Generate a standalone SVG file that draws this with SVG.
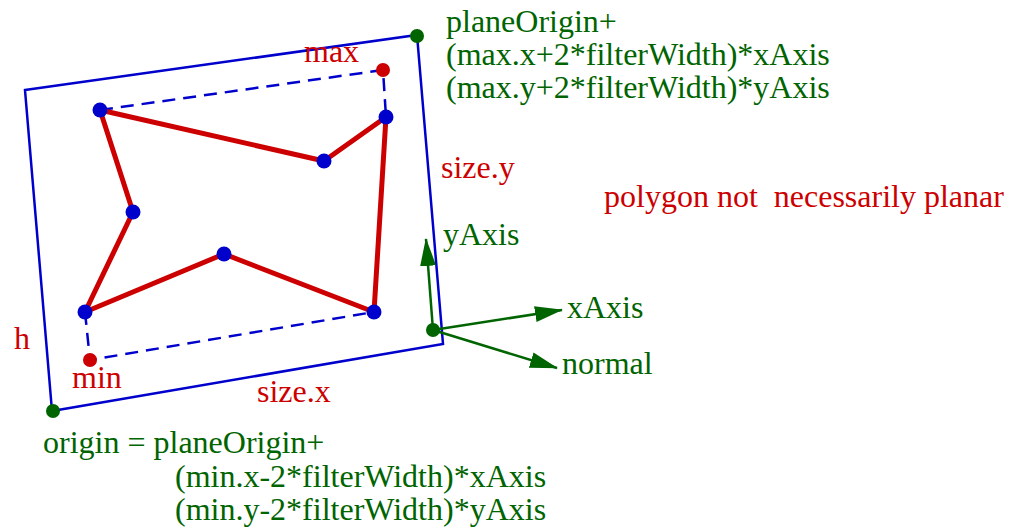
<svg xmlns="http://www.w3.org/2000/svg" width="1014" height="529" viewBox="0 0 1014 529">
<style>
text{font-family:"Liberation Serif","Times New Roman",serif;font-size:32px}
.g{fill:#006400}
.r{fill:#cc0000}
.quad{fill:none;stroke:#0000cc;stroke-width:2.5}
.dash{fill:none;stroke:#0000cc;stroke-width:2.5;stroke-dasharray:13 8}
.poly{fill:none;stroke:#cc0000;stroke-width:5;stroke-linejoin:round}
.ax{stroke:#006400;stroke-width:2.5;fill:none}
.bd{fill:#0000cc}
.gd{fill:#006400}
.rd{fill:#cc0000}
</style>
<defs>
<marker id="ah" markerUnits="userSpaceOnUse" markerWidth="30" markerHeight="18" refX="27" refY="8" orient="auto">
<path d="M0,0 L28,8 L0,16 Z" fill="#006400"/>
</marker>
</defs>
<rect width="1014" height="529" fill="#ffffff"/>
<g id="connectors">
<polygon class="quad" points="25,90 417,35 443,344 52,411"/>
<polyline class="dash" points="100,110 383,70 386,117"/>
<polyline class="dash" points="85,312 90,360 374,312"/>
<polygon class="poly" points="100,110 324,161 386,117 374,312 224,254 85,312 133,212"/>
<line class="ax" x1="433" y1="330" x2="426" y2="239" marker-end="url(#ah)"/>
<line class="ax" x1="433" y1="330" x2="562" y2="310" marker-end="url(#ah)"/>
<line class="ax" x1="433" y1="330" x2="557" y2="368" marker-end="url(#ah)"/>
</g>
<g id="vertices">
<circle class="bd" cx="100" cy="110" r="7.5"/>
<circle class="bd" cx="324" cy="161" r="7.5"/>
<circle class="bd" cx="386" cy="117" r="7.5"/>
<circle class="bd" cx="374" cy="312" r="7.5"/>
<circle class="bd" cx="224" cy="254" r="7.5"/>
<circle class="bd" cx="85" cy="312" r="7.5"/>
<circle class="bd" cx="133" cy="212" r="7.5"/>
</g>
<g id="max">
<circle class="rd" cx="383" cy="70" r="7"/>
<text class="r" x="304" y="62">max</text>
</g>
<g id="min">
<circle class="rd" cx="90" cy="360" r="7"/>
<text class="r" x="72" y="388">min</text>
</g>
<g id="planeCorner">
<circle class="gd" cx="417" cy="36" r="7"/>
<text class="g" x="446" y="32">planeOrigin+</text>
<text class="g" x="446" y="65">(max.x+2*filterWidth)*xAxis</text>
<text class="g" x="446" y="98">(max.y+2*filterWidth)*yAxis</text>
</g>
<g id="origin">
<circle class="gd" cx="53" cy="411" r="7"/>
<text class="g" x="43" y="453">origin = planeOrigin+</text>
<text class="g" x="175" y="487">(min.x-2*filterWidth)*xAxis</text>
<text class="g" x="175" y="520">(min.y-2*filterWidth)*yAxis</text>
</g>
<g id="axes">
<circle class="gd" cx="433" cy="330" r="7"/>
<text class="g" x="443" y="245">yAxis</text>
<text class="g" x="567" y="318">xAxis</text>
<text class="g" x="562" y="374">normal</text>
</g>
<g id="labels">
<text class="r" x="441" y="178">size.y</text>
<text class="r" x="257" y="402">size.x</text>
<text class="r" x="14" y="349">h</text>
<text class="r" x="604" y="207" xml:space="preserve">polygon not  necessarily planar</text>
</g>
</svg>
